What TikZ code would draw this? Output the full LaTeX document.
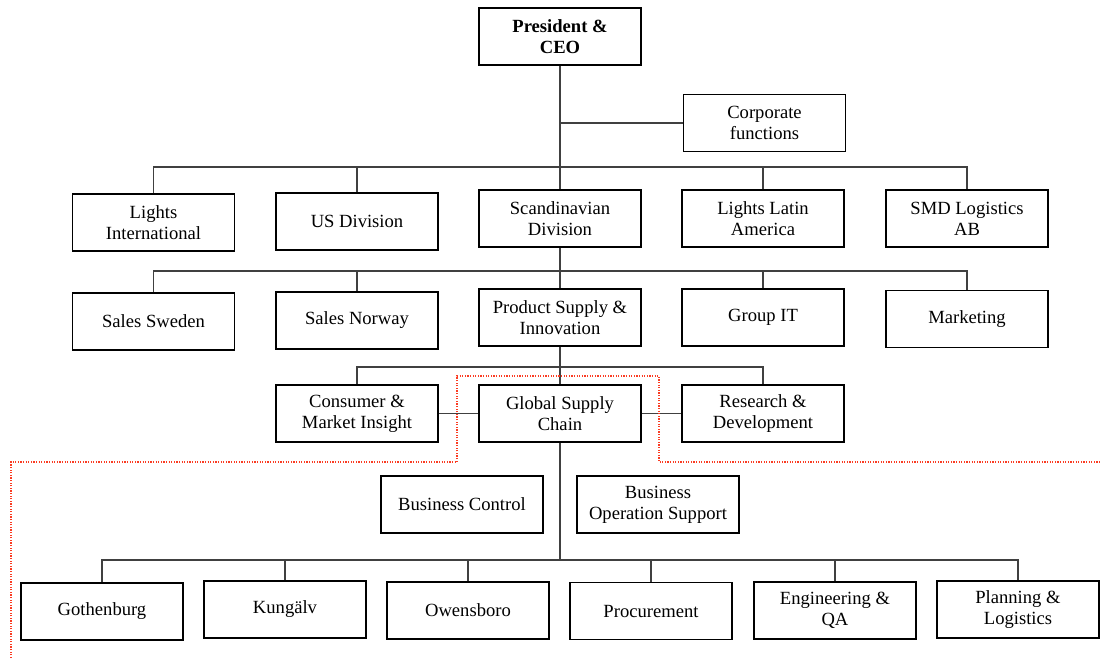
\documentclass[tikz,border=0pt]{standalone}
\usepackage{fontspec}
\setmainfont{Liberation Serif}
\usetikzlibrary{calc}
\definecolor{dotred}{RGB}{250,60,35}
\begin{document}
\begin{tikzpicture}[x=0.5pt,y=-0.5pt,
	unit/.style={draw,line width=0.6pt,minimum width=81pt,minimum height=28.5pt,inner sep=0pt,align=center,font=\fontsize{9.3}{10.5}\selectfont},
	link/.style={line width=0.6pt,black!75}]
	\useasboundingbox (0,0) rectangle (1100,661);
	\node[unit,font=\fontsize{9.3}{10.5}\selectfont\bfseries] (ceo) at (560,36.5) {President \&\\CEO};
	\node[unit] (corp) at (764.5,123) {Corporate\\functions};
	\node[unit] (li) at (153.5,222.5) {Lights\\International};
	\node[unit] (us) at (357,221.5) {US Division};
	\node[unit] (scan) at (560,218.5) {Scandinavian\\Division};
	\node[unit] (lla) at (763,218.5) {Lights Latin\\America};
	\node[unit] (smd) at (967,218.5) {SMD Logistics\\AB};
	\node[unit] (ssw) at (153.5,321.5) {Sales Sweden};
	\node[unit] (sno) at (357,320.5) {Sales Norway};
	\node[unit] (psi) at (560,317.5) {Product Supply \&\\Innovation};
	\node[unit] (git) at (763,317.5) {Group IT};
	\node[unit] (mkt) at (967,319) {Marketing};
	\node[unit] (cmi) at (357,413.5) {Consumer \&\\Market Insight};
	\node[unit] (gsc) at (560,413.5) {Global Supply\\Chain};
	\node[unit] (rd) at (763,413.5) {Research \&\\Development};
	\node[unit] (bc) at (462,504.5) {Business Control};
	\node[unit] (bos) at (658,504.5) {Business\\Operation Support};
	\node[unit] (got) at (102,611.5) {Gothenburg};
	\node[unit] (kun) at (285,609.5) {Kungälv};
	\node[unit] (owe) at (468,610.5) {Owensboro};
	\node[unit] (pro) at (651,611) {Procurement};
	\node[unit] (eqa) at (835,610.5) {Engineering \&\\QA};
	\node[unit] (plg) at (1018,609.5) {Planning \&\\Logistics};
	\coordinate (bus1) at (560,167);
	\coordinate (bus2) at (560,271);
	\coordinate (bus3) at (560,367);
	\coordinate (bus4) at (560,560);
	\draw[link] (ceo.south) -- (scan.north);
	\draw[link] (corp.west) -- (corp.west -| ceo.south);
	\draw[link] (li.north) |- (bus1) -| (smd.north);
	\draw[link] (us.north) -- (us.north |- bus1);
	\draw[link] (lla.north) -- (lla.north |- bus1);
	\draw[link] (scan.south) -- (psi.north);
	\draw[link] (ssw.north) |- (bus2) -| (mkt.north);
	\draw[link] (sno.north) -- (sno.north |- bus2);
	\draw[link] (git.north) -- (git.north |- bus2);
	\draw[link] (psi.south) -- (gsc.north);
	\draw[link] (cmi.north) |- (bus3) -| (rd.north);
	\draw[link] (cmi.east) -- (gsc.west);
	\draw[link] (gsc.east) -- (rd.west);
	\draw[link] (gsc.south) -- (bus4);
	\draw[link] (got.north) |- (bus4) -| (plg.north);
	\draw[link] (kun.north) -- (kun.north |- bus4);
	\draw[link] (owe.north) -- (owe.north |- bus4);
	\draw[link] (pro.north) -- (pro.north |- bus4);
	\draw[link] (eqa.north) -- (eqa.north |- bus4);
	\draw[dotred,line width=0.75pt,dash pattern=on 0.6pt off 0.7pt] (11,658) -- (11,462) -- (457,462) -- (457,376) -- (659,376) -- (659,462) -- (1100,462);
\end{tikzpicture}
\end{document}
